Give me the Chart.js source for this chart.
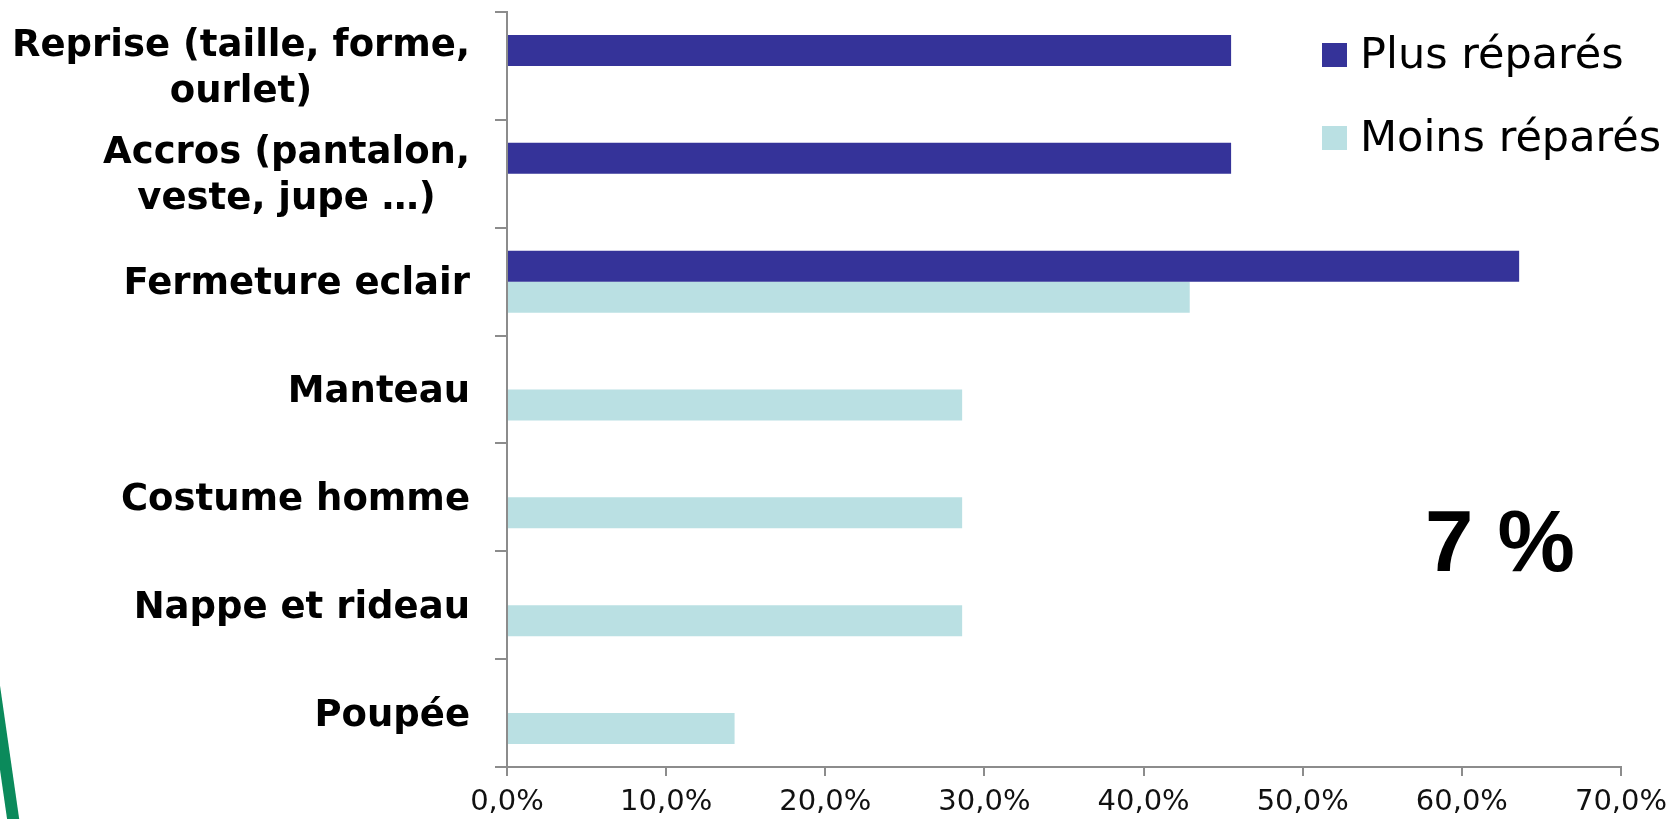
<!DOCTYPE html>
<html>
<head>
<meta charset="utf-8">
<script src="https://cdn.jsdelivr.net/npm/chart.js@4/dist/chart.umd.min.js"></script>
<style>
  html, body { margin: 0; padding: 0; background: #fff; }
  #wrap { width: 1669px; height: 819px; position: relative; }
</style>
</head>
<body>
<div id="wrap"><canvas id="chart"></canvas></div>
<script>
// Data
const categories = [
    ['Reprise (taille, forme,', 'ourlet)'],
    ['Accros (pantalon,', 'veste, jupe …)'],
    'Fermeture eclair',
    'Manteau',
    'Costume homme',
    'Nappe et rideau',
    'Poupée'
];
const seriesNames = ['Plus réparés', 'Moins réparés'];
const plusRepares = [45.5, 45.5, 63.6, null, null, null, null];
const moinsRepares = [null, null, 42.9, 28.6, 28.6, 28.6, 14.3];
const xTicks = [0, 10, 20, 30, 40, 50, 60, 70];
const bigNote = '7 %';

const colors = ['#353399', '#bae0e3'];
const axisGray = '#8c8c8c';

Chart.defaults.font.family = "'DejaVu Sans', Verdana, sans-serif";
Chart.defaults.color = '#000';

// Category labels: block right-aligned against the axis, lines centred inside the block
const categoryLabels = {
    id: 'categoryLabels',
    afterDraw(chart) {
        const ctx = chart.ctx;
        const yScale = chart.scales.y;
        const right = 470;
        const lineH = 46;
        ctx.save();
        ctx.font = "bold 37px 'DejaVu Sans'";
        ctx.fillStyle = '#000';
        ctx.textBaseline = 'middle';
        ctx.textAlign = 'center';
        chart.data.labels.forEach((lab, i) => {
            const lines = Array.isArray(lab) ? lab : [lab];
            const w = Math.max(...lines.map(l => ctx.measureText(l).width));
            const cx = right - w / 2;
            const y0 = yScale.getPixelForTick(i) + 3 - (lines.length - 1) * lineH / 2;
            lines.forEach((l, j) => ctx.fillText(l, cx, y0 + j * lineH));
        });
        ctx.restore();
    }
};

// Legend, big note and the green corner stroke
const extras = {
    id: 'extras',
    afterDraw(chart) {
        const ctx = chart.ctx;
        ctx.save();

        // green stroke bottom-left
        ctx.strokeStyle = '#0b8a5b';
        ctx.lineWidth = 12;
        ctx.beginPath();
        ctx.moveTo(-9, 665);
        ctx.lineTo(14, 825);
        ctx.stroke();

        // legend
        ctx.font = "43px 'DejaVu Sans'";
        ctx.textBaseline = 'middle';
        ctx.textAlign = 'left';
        chart.data.datasets.forEach((ds, i) => {
            const y = 55 + i * 83;
            ctx.fillStyle = ds.backgroundColor;
            ctx.fillRect(1322, y - 12, 25, 24);
            ctx.fillStyle = '#000';
            ctx.fillText(ds.label, 1360, y + 2);
        });

        // big note
        ctx.font = "bold 87px 'Liberation Sans', Arial, sans-serif";
        ctx.textBaseline = 'alphabetic';
        ctx.fillText(bigNote, 1425, 571);
        ctx.restore();
    }
};

function noPad(scale) {
    scale.paddingTop = 0;
    scale.paddingBottom = 0;
    scale.paddingLeft = 0;
    scale.paddingRight = 0;
}

new Chart(document.getElementById('chart'), {
    type: 'bar',
    data: {
        labels: categories,
        datasets: [
            { label: seriesNames[0], data: plusRepares, backgroundColor: colors[0] },
            { label: seriesNames[1], data: moinsRepares, backgroundColor: colors[1] }
        ]
    },
    options: {
        indexAxis: 'y',
        responsive: true,
        maintainAspectRatio: false,
        animation: false,
        categoryPercentage: 0.575,
        barPercentage: 1,
        layout: { padding: { top: 12, right: 48, left: 0, bottom: 0 } },
        plugins: {
            legend: { display: false },
            tooltip: { enabled: false }
        },
        scales: {
            x: {
                min: 0,
                max: 70,
                afterBuildTicks(scale) {
                    scale.ticks = xTicks.map(v => ({ value: v }));
                },
                afterFit(scale) {
                    scale.height = 52;
                    noPad(scale);
                },
                grid: {
                    drawOnChartArea: false,
                    tickLength: 9,
                    color: axisGray,
                    lineWidth: 2
                },
                border: { color: axisGray, width: 2 },
                ticks: {
                    padding: 9,
                    font: { size: 29 },
                    color: '#111',
                    maxRotation: 0,
                    callback: v => v.toFixed(1).replace('.', ',') + '%'
                }
            },
            y: {
                afterFit(scale) {
                    scale.width = 507;
                    noPad(scale);
                },
                grid: {
                    drawOnChartArea: false,
                    offset: true,
                    tickLength: 12,
                    color: axisGray,
                    lineWidth: 2
                },
                border: { color: axisGray, width: 2 },
                ticks: { display: false }
            }
        }
    },
    plugins: [categoryLabels, extras]
});
</script>
</body>
</html>
